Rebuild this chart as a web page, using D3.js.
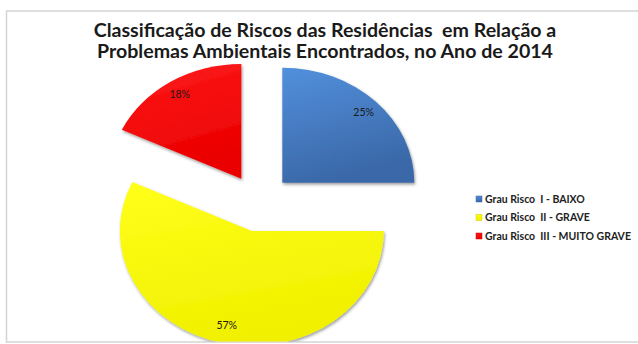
<!DOCTYPE html>
<html>
<head>
<meta charset="utf-8">
<script src="https://cdn.jsdelivr.net/npm/d3@7"></script>
<style>
  html, body { margin: 0; padding: 0; background: #fff; }
  svg { display: block; }
  text { white-space: pre; }
</style>
</head>
<body>
<script>
const titleLines = [
  "Classificação de Riscos das Residências  em Relação a",
  "Problemas Ambientais Encontrados, no Ano de 2014"
];
const categories = ["Grau Risco  I - BAIXO", "Grau Risco  II - GRAVE", "Grau Risco  III - MUITO GRAVE"];
const values = [25, 57, 18];
const colors = ["#4A7FC4", "#FFFF00", "#FF0000"];
const shades = [["#5290DC", "#3A68A8"], ["#FFFF1A", "#F0F000"], ["#FF1A1A", "#EA0000"]];

const W = 638, H = 344;
const cx = 259, cy = 203, R = 132, sy = 0.87, explode = 33, labelR = 115;

const svg = d3.select("body").append("svg").attr("width", W).attr("height", H);
const defs = svg.append("defs");

defs.append("clipPath").attr("id", "plotclip")
  .append("rect").attr("x", 7).attr("y", 12).attr("width", W).attr("height", 329.5);

const f = defs.append("filter").attr("id", "shadow")
  .attr("x", "-20%").attr("y", "-20%").attr("width", "140%").attr("height", "140%");
f.append("feDropShadow").attr("dx", 1).attr("dy", 2).attr("stdDeviation", 1.6)
  .attr("flood-color", "#000").attr("flood-opacity", 0.4);

shades.forEach((s, i) => {
  const g = defs.append("linearGradient").attr("id", "grad" + i)
    .attr("x1", 0).attr("y1", 0).attr("x2", 0.3).attr("y2", 1);
  g.append("stop").attr("offset", "0%").attr("stop-color", s[0]);
  g.append("stop").attr("offset", "100%").attr("stop-color", s[1]);
});

// chart border
svg.append("rect").attr("x", 6.5).attr("y", 11).attr("width", W + 10).attr("height", 331)
  .attr("fill", "#fff").attr("stroke", "#D4D4D4").attr("stroke-width", 1.5);

// title (one text element per line)
titleLines.forEach((t, i) => {
  svg.append("text").attr("x", 325).attr("y", 37 + i * 21)
    .attr("text-anchor", "middle")
    .attr("font-family", "Lato, 'Open Sans', sans-serif").attr("font-weight", "bold")
    .attr("font-size", 19.6).attr("fill", "#1a1a1a").text(t);
});

// pie
const pie = d3.pie().sort(null).value(d => d)(values);
const arc = d3.arc().innerRadius(0).outerRadius(R);

const plot = svg.append("g").attr("clip-path", "url(#plotclip)");
const pg = plot.append("g").attr("transform", `translate(${cx},${cy}) scale(1,${sy})`);

pie.forEach((p, i) => {
  const mid = (p.startAngle + p.endAngle) / 2;
  const dx = Math.sin(mid) * explode, dy = -Math.cos(mid) * explode;
  pg.append("path")
    .attr("d", arc(p))
    .attr("transform", `translate(${dx},${dy})`)
    .attr("fill", `url(#grad${i})`)
    .attr("filter", "url(#shadow)");
});

// labels
const total = d3.sum(values);
pie.forEach((p, i) => {
  const mid = (p.startAngle + p.endAngle) / 2;
  const r = explode + labelR;
  const x = cx + Math.sin(mid) * r;
  const y = cy - Math.cos(mid) * r * sy;
  plot.append("text")
    .attr("x", x).attr("y", Math.min(y, 325)).attr("dy", "0.35em")
    .attr("text-anchor", "middle")
    .attr("font-family", "Lato, sans-serif").attr("font-size", 10.5)
    .attr("fill", "#1a1a1a")
    .text(Math.round(values[i] / total * 100) + "%");
});

// legend
const lg = svg.append("g").attr("transform", "translate(476,199)");
categories.forEach((c, i) => {
  const row = lg.append("g").attr("transform", `translate(0,${i * 18.5})`);
  row.append("rect").attr("x", 0).attr("y", -3).attr("width", 6).attr("height", 6)
    .attr("fill", `url(#grad${i})`).attr("stroke", d3.color(colors[i]).darker(0.6)).attr("stroke-width", 0.5);
  row.append("text").attr("x", 9).attr("y", 0).attr("dy", "0.35em")
    .attr("font-family", "Lato, sans-serif").attr("font-weight", "bold")
    .attr("font-size", 10.5).attr("fill", "#222").text(c);
});
</script>
</body>
</html>
